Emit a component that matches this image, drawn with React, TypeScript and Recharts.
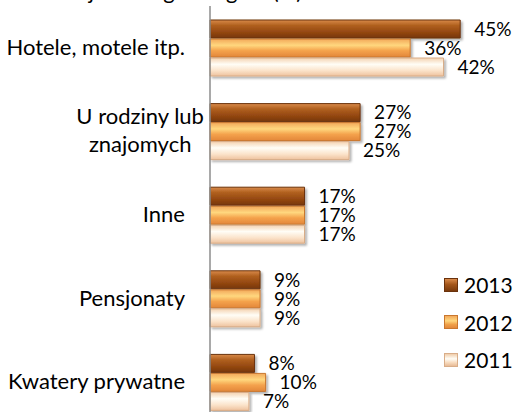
import React from "react";
import { BarChart, Bar, XAxis, YAxis, LabelList } from "recharts";

const categories = [
  ["Hotele, motele itp."],
  ["U rodziny lub", "znajomych"],
  ["Inne"],
  ["Pensjonaty"],
  ["Kwatery prywatne"],
];
const years = ["2013", "2012", "2011"];
const values2013 = [45, 27, 17, 9, 8];
const values2012 = [36, 27, 17, 9, 10];
const values2011 = [42, 25, 17, 9, 7];

const FONT = "Lato, 'Open Sans', sans-serif";

const data = categories.map((lines, i) => ({
  name: lines.join("\n"),
  "2013": values2013[i],
  "2012": values2012[i],
  "2011": values2011[i],
}));

const fills: Record<string, string> = {
  "2013": "url(#g2013)",
  "2012": "url(#g2012)",
  "2011": "url(#g2011)",
};
const strokes: Record<string, string> = {
  "2013": "#6a320c",
  "2012": "#c9772e",
  "2011": "#d9ad88",
};

function CategoryTick({ x, y, payload }: any) {
  const lines = String(payload.value).split("\n");
  const lh = 28;
  const top = y - ((lines.length - 1) * lh) / 2;
  if (lines.length === 1) {
    return (
      <text x={x - 17} y={top} dy={7} textAnchor="end" fontSize={22} fill="#000" fontFamily={FONT}>
        {lines[0]}
      </text>
    );
  }
  const w = Math.max(...lines.map((l) => l.length)) * 6.9;
  const cx = x - 17 - w / 2;
  return (
    <text fontSize={22} fill="#000" fontFamily={FONT} textAnchor="middle">
      {lines.map((l, i) => (
        <tspan key={i} x={cx} y={top + i * lh} dy={7}>
          {l}
        </tspan>
      ))}
    </text>
  );
}

const swatch: Record<string, string> = {
  "2013": "linear-gradient(#d98a4a, #a4561a 45%, #7a3a0c)",
  "2012": "linear-gradient(#f2a85a, #ffd77e 40%, #f0a048 70%, #e3873a)",
  "2011": "linear-gradient(#f0cdaa, #fffdf6 40%, #f8dcc0 70%, #e8bb96)",
};

function LegendBox() {
  return (
    <div style={{ position: "absolute", left: 444, top: 266, fontFamily: FONT, fontSize: 21, color: "#000" }}>
      {years.map((yr) => (
        <div key={yr} style={{ display: "flex", alignItems: "center", height: 37.5 }}>
          <div
            style={{
              width: 12,
              height: 12,
              marginRight: 6,
              background: swatch[yr],
              border: `1px solid ${strokes[yr]}`,
            }}
          />
          <span>{yr}</span>
        </div>
      ))}
    </div>
  );
}

export default function App() {
  return (
    <div style={{ position: "absolute", left: 0, top: 0, width: 515, height: 412, overflow: "hidden", background: "#fff" }}>
      <div
        style={{
          position: "absolute",
          left: 30,
          top: -23,
          fontFamily: FONT,
          fontSize: 22,
          color: "#000",
          whiteSpace: "nowrap",
        }}
      >
        Rodzaje noclegów wg lat (%)
      </div>
      <BarChart
        width={515}
        height={430}
        data={data}
        layout="vertical"
        margin={{ top: 6, right: 27, bottom: 6, left: 0 }}
        barSize={18}
        barGap={1}
      >
        <defs>
          <linearGradient id="g2013" x1="0" y1="0" x2="0" y2="1">
            <stop offset="0" stopColor="#d98a4a" />
            <stop offset="0.3" stopColor="#b0601f" />
            <stop offset="0.7" stopColor="#924610" />
            <stop offset="1" stopColor="#76370b" />
          </linearGradient>
          <linearGradient id="g2012" x1="0" y1="0" x2="0" y2="1">
            <stop offset="0" stopColor="#f2a85a" />
            <stop offset="0.35" stopColor="#ffd77e" />
            <stop offset="0.65" stopColor="#f4a24c" />
            <stop offset="1" stopColor="#e3873a" />
          </linearGradient>
          <linearGradient id="g2011" x1="0" y1="0" x2="0" y2="1">
            <stop offset="0" stopColor="#f4d2b0" />
            <stop offset="0.35" stopColor="#fffdf6" />
            <stop offset="0.7" stopColor="#fbe3ca" />
            <stop offset="1" stopColor="#eec29e" />
          </linearGradient>
          <filter id="shadow" x="-5%" y="-20%" width="115%" height="160%">
            <feDropShadow dx={2} dy={2} stdDeviation={1.2} floodColor="#000" floodOpacity={0.3} />
          </filter>
        </defs>
        <XAxis type="number" domain={[0, 50]} hide />
        <YAxis
          type="category"
          dataKey="name"
          width={210}
          tickLine={false}
          axisLine={{ stroke: "#8c8c8c", strokeWidth: 1.5 }}
          tick={<CategoryTick />}
          interval={0}
        />
        {years.map((yr) => (
          <Bar
            key={yr}
            dataKey={yr}
            fill={fills[yr]}
            stroke={strokes[yr]}
            strokeWidth={1}
            filter="url(#shadow)"
            isAnimationActive={false}
          >
            <LabelList
              dataKey={yr}
              position="right"
              offset={14}
              formatter={(v: any) => `${v}%`}
              style={{ fontSize: 19, fill: "#000", fontFamily: FONT }}
            />
          </Bar>
        ))}
      </BarChart>
      <LegendBox />
    </div>
  );
}
